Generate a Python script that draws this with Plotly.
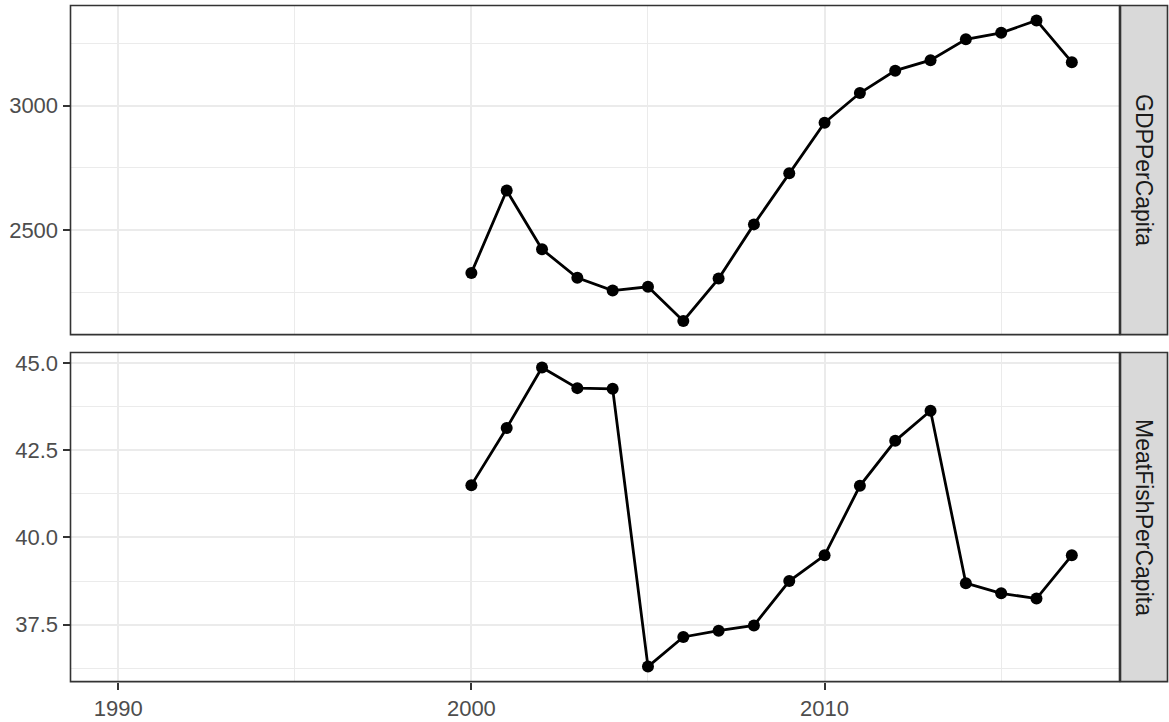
import plotly.graph_objects as go

years = list(range(2000, 2018))
gdp_per_capita = [2328, 2659, 2423, 2308, 2257, 2272, 2135, 2305, 2523, 2729,
                  2932, 3051, 3141, 3183, 3267, 3293, 3343, 3175]
meatfish_per_capita = [41.50, 43.14, 44.87, 44.28, 44.26, 36.30, 37.15, 37.33, 37.48, 38.75,
                       39.49, 41.48, 42.77, 43.63, 38.69, 38.40, 38.25, 39.49]
panel_labels = ["GDPPerCapita", "MeatFishPerCapita"]
x_ticks = [1990, 2000, 2010]
gdp_ticks = [2500, 3000]
meat_ticks = [37.5, 40.0, 42.5, 45.0]

W, H = 1169, 722
px = lambda v: v / W
py = lambda v: 1 - v / H

x0, x1 = 70.5, 1119.5
strip_x1 = 1167.5
top_y0, top_y1 = 3.5, 333.5
bot_y0, bot_y1 = 351.5, 681.5

FONT = "Liberation Sans, Arial, sans-serif"
GRID = "#EBEBEB"
BORDER = "#333333"
TICKFONT = dict(family=FONT, size=22, color="#4D4D4D")

fig = go.Figure()
for ys, xa, ya in [(gdp_per_capita, "x", "y"), (meatfish_per_capita, "x2", "y2")]:
    fig.add_trace(go.Scatter(
        x=years, y=ys, xaxis=xa, yaxis=ya, mode="lines+markers",
        line=dict(color="black", width=2.8),
        marker=dict(color="black", size=12),
        showlegend=False, cliponaxis=False,
    ))

xcommon = dict(
    range=[1988.65, 2018.35], tickvals=x_ticks, showgrid=True, gridcolor=GRID, gridwidth=2,
    minor=dict(tickvals=[1995, 2005, 2015], showgrid=True, gridcolor=GRID, gridwidth=1, ticks=""),
    zeroline=False, showline=False, domain=[px(x0), px(x1)],
    tickfont=TICKFONT,
)
ycommon = dict(showgrid=True, gridcolor=GRID, gridwidth=2, zeroline=False,
               ticks="outside", ticklen=7, tickwidth=2, tickcolor=BORDER, tickfont=TICKFONT)
fig.update_layout(
    width=W, height=H, margin=dict(l=0, r=0, t=0, b=0),
    plot_bgcolor="white", paper_bgcolor="white",
    xaxis=dict(**xcommon, anchor="y", showticklabels=False, ticks=""),
    xaxis2=dict(**xcommon, anchor="y2", matches="x", ticks="outside", ticklen=7,
                tickwidth=2, tickcolor=BORDER),
    yaxis=dict(range=[2080, 3403], tickvals=gdp_ticks, domain=[py(top_y1), py(top_y0)],
               minor=dict(tickvals=[2250, 2750, 3250], showgrid=True, gridcolor=GRID, gridwidth=1, ticks=""),
               anchor="x", **ycommon),
    yaxis2=dict(range=[35.87, 45.30], tickvals=meat_ticks, ticktext=["37.5", "40.0", "42.5", "45.0"],
                domain=[py(bot_y1), py(bot_y0)],
                minor=dict(tickvals=[36.25, 38.75, 41.25, 43.75], showgrid=True, gridcolor=GRID, gridwidth=1, ticks=""),
                anchor="x2", **ycommon),
)

shapes = []
for (y0, y1), label in zip([(top_y0, top_y1), (bot_y0, bot_y1)], panel_labels):
    shapes.append(dict(type="rect", xref="paper", yref="paper", x0=px(x0), x1=px(x1),
                       y0=py(y1), y1=py(y0), line=dict(color=BORDER, width=1.6),
                       fillcolor="rgba(0,0,0,0)", layer="above"))
    shapes.append(dict(type="rect", xref="paper", yref="paper", x0=px(x1 + 1), x1=px(strip_x1),
                       y0=py(y1), y1=py(y0), line=dict(color=BORDER, width=1.6),
                       fillcolor="#D9D9D9", layer="above"))
    fig.add_annotation(xref="paper", yref="paper", x=px((x1 + 1 + strip_x1) / 2),
                       y=py((y0 + y1) / 2), text=label, textangle=90, showarrow=False,
                       xanchor="center", yanchor="middle",
                       font=dict(family=FONT, size=23, color="#1A1A1A"))
fig.update_layout(shapes=shapes)

fig.write_html("out.html", config={"displayModeBar": False},
               post_script="document.body.style.margin='0';document.body.style.overflow='hidden';")
